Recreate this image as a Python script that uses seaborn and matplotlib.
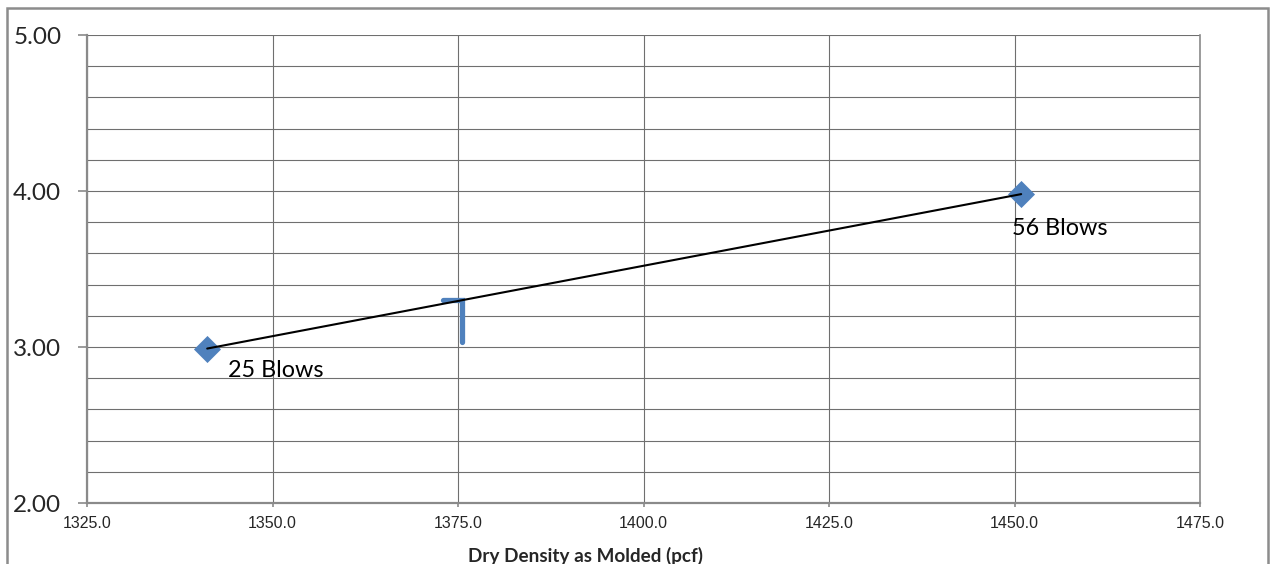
import matplotlib
matplotlib.use("Agg")
import matplotlib.pyplot as plt
import seaborn as sns
import pandas as pd
from matplotlib.patches import Rectangle
from matplotlib.ticker import MultipleLocator, FormatStrFormatter

# Compaction points: dry density vs. value, labelled by blow count
density = [1341.2, 1450.9]
values = [2.99, 3.98]
point_labels = ["25 Blows", "56 Blows"]

# Interpolated target marker (L-shaped indicator)
target_x = [1373.0, 1375.5, 1375.5]
target_y = [3.30, 3.30, 3.03]

x_ticks = [1325.0, 1350.0, 1375.0, 1400.0, 1425.0, 1450.0, 1475.0]
y_ticks = [2.00, 3.00, 4.00, 5.00]
x_title = "Dry Density as Molded (pcf)"

sns.set_style("white")
plt.rcParams["font.family"] = ["Lato", "DejaVu Sans"]

BLUE = "#4F81BD"
GRID = "#6f6f6f"
AXIS = "#8a8a8a"

fig = plt.figure(figsize=(12.73, 5.64), dpi=100)
ax = fig.add_axes([87 / 1273, 1 - 503 / 564, (1200 - 87) / 1273, (503 - 35) / 564])

df = pd.DataFrame({"density": density, "value": values, "label": point_labels})

sns.scatterplot(data=df, x="density", y="value", marker="D", s=190, color=BLUE,
                edgecolor=BLUE, linewidth=0, ax=ax, zorder=3)
sns.lineplot(data=df, x="density", y="value", color="black", linewidth=1.5,
             ax=ax, zorder=4, sort=False)
ax.plot(target_x, target_y, color=BLUE, linewidth=3.8, solid_capstyle="round",
        solid_joinstyle="miter", zorder=3)

label_pos = [(1344.0, 2.808), (1449.7, 3.718)]
for (lx, ly), txt in zip(label_pos, point_labels):
    ax.text(lx, ly, txt, fontsize=16.8, color="black", ha="left", va="baseline", zorder=5)

ax.set_xlim(x_ticks[0], x_ticks[-1])
ax.set_ylim(y_ticks[0], y_ticks[-1])
ax.set_xticks(x_ticks)
ax.set_yticks(y_ticks)
ax.yaxis.set_minor_locator(MultipleLocator(0.2))
ax.xaxis.set_major_formatter(FormatStrFormatter("%.1f"))
ax.yaxis.set_major_formatter(FormatStrFormatter("%.2f"))

ax.grid(True, which="major", axis="both", color=GRID, linewidth=0.8)
ax.grid(True, which="minor", axis="y", color=GRID, linewidth=0.8)
ax.set_axisbelow(True)

for side in ["left", "bottom", "right"]:
    ax.spines[side].set_visible(True)
    ax.spines[side].set_color(AXIS)
ax.spines["left"].set_linewidth(1.6)
ax.spines["bottom"].set_linewidth(1.6)
ax.spines["right"].set_linewidth(1.2)
ax.spines["top"].set_visible(False)

ax.tick_params(axis="y", which="major", direction="out", length=6.5, width=1.2,
               color=AXIS, pad=12, labelsize=17.5, left=True)
ax.tick_params(axis="y", which="minor", length=0)
ax.tick_params(axis="x", which="major", direction="out", length=3, width=1.2,
               color=AXIS, pad=6, bottom=True)
for lbl in ax.get_xticklabels():
    lbl.set_fontfamily(["Liberation Sans", "DejaVu Sans"])
    lbl.set_fontsize(11.5)

ax.set_xlabel("")
ax.set_ylabel("")

fig.text(586 / 1273, 1 - 562 / 564, x_title, fontsize=13.6, fontweight="bold",
         ha="center", va="baseline")

# Chart frame
fig.patches.append(Rectangle((7 / 1273, -0.05), (1268 - 7) / 1273, 1.05 - 8 / 564,
                             transform=fig.transFigure, fill=False,
                             edgecolor="#8c8c8c", linewidth=1.8))

fig.savefig("out.png", dpi=100)
